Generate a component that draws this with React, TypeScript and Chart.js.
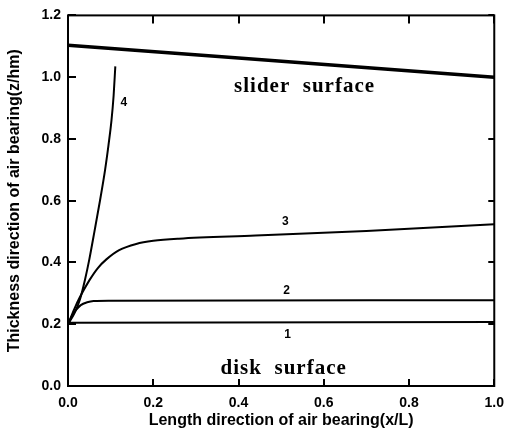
import React, { useEffect, useRef } from "react";
import { Chart, registerables } from "chart.js";
Chart.register(...registerables);

// ---- data ----
const xTickValues = [0, 0.2, 0.4, 0.6, 0.8, 1.0];
const yTickValues = [0, 0.2, 0.4, 0.6, 0.8, 1.0, 1.2];

const sliderX = [0, 1];
const sliderY = [1.103, 1.0];

const curve1X = [0, 1];
const curve1Y = [0.205, 0.207];

const curve2X = [0, 0.01, 0.02, 0.03, 0.045, 0.06, 0.1, 1];
const curve2Y = [0.2, 0.228, 0.248, 0.262, 0.271, 0.275, 0.276, 0.278];

const curve3X = [0, 0.015, 0.028, 0.05, 0.07, 0.09, 0.12, 0.16, 0.2, 0.26, 0.44, 0.7, 1];
const curve3Y = [0.2, 0.25, 0.288, 0.342, 0.382, 0.41, 0.44, 0.46, 0.47, 0.477, 0.487, 0.502, 0.524];

const curve4X = [0, 0.015, 0.028, 0.04, 0.05, 0.062, 0.075, 0.087, 0.095, 0.102, 0.107, 0.111];
const curve4Y = [0.2, 0.235, 0.28, 0.345, 0.41, 0.5, 0.6, 0.7, 0.78, 0.86, 0.94, 1.035];

const curveLabels = ["1", "2", "3", "4"];
const curveLabelX = [0.515, 0.513, 0.51, 0.131];
const curveLabelY = [0.165, 0.31, 0.532, 0.916];

const surfaceLabels = ["slider  surface", "disk  surface"];
const surfaceLabelX = [0.555, 0.506];
const surfaceLabelY = [0.971, 0.058];

const xTitle = "Length direction of air bearing(x/L)";
const yTitle = "Thickness direction of air bearing(z/hm)";

const SANS = "'Liberation Sans', Arial, Helvetica, sans-serif";
const SERIF = "'Liberation Serif', 'Times New Roman', serif";

const pts = (xs: number[], ys: number[]) => xs.map((x, i) => ({ x, y: ys[i] }));

const framePlugin = {
  id: "frameTicks",
  afterDatasetsDraw(chart: any) {
    const { ctx, chartArea: a, scales } = chart;
    const xs = scales.x;
    const ys = scales.y;
    ctx.save();
    ctx.strokeStyle = "#000";
    ctx.lineWidth = 2;
    ctx.strokeRect(a.left, a.top, a.right - a.left, a.bottom - a.top);
    ctx.beginPath();
    xTickValues.forEach((v) => {
      const p = Math.round(xs.getPixelForValue(v));
      ctx.moveTo(p, a.bottom);
      ctx.lineTo(p, a.bottom - 7);
      ctx.moveTo(p, a.top);
      ctx.lineTo(p, a.top + 8);
    });
    yTickValues.forEach((v) => {
      const p = Math.round(ys.getPixelForValue(v));
      ctx.moveTo(a.left, p);
      ctx.lineTo(a.left + 8, p);
      ctx.moveTo(a.right, p);
      ctx.lineTo(a.right - 6, p);
    });
    ctx.stroke();

    ctx.fillStyle = "#000";
    ctx.textAlign = "center";
    ctx.textBaseline = "middle";
    ctx.font = `bold 12px ${SANS}`;
    curveLabels.forEach((t, i) => {
      ctx.fillText(t, xs.getPixelForValue(curveLabelX[i]), ys.getPixelForValue(curveLabelY[i]));
    });
    ctx.font = `bold 21px ${SERIF}`;
    (ctx as any).letterSpacing = "1px";
    surfaceLabels.forEach((t, i) => {
      ctx.fillText(t, xs.getPixelForValue(surfaceLabelX[i]), ys.getPixelForValue(surfaceLabelY[i]));
    });
    (ctx as any).letterSpacing = "0px";
    ctx.restore();
  },
};

export default function App() {
  const ref = useRef<HTMLCanvasElement>(null);
  useEffect(() => {
    const canvas = ref.current!;
    const line = (xs: number[], ys: number[], w: number) => ({
      data: pts(xs, ys),
      showLine: true,
      borderColor: "#000",
      backgroundColor: "#000",
      borderWidth: w,
      pointRadius: 0,
      cubicInterpolationMode: "monotone" as const,
      fill: false,
    });
    const chart = new Chart(canvas, {
      type: "scatter",
      data: {
        datasets: [
          line(sliderX, sliderY, 3.5),
          line(curve1X, curve1Y, 2),
          line(curve2X, curve2Y, 2),
          line(curve3X, curve3Y, 2),
          line(curve4X, curve4Y, 2),
        ],
      },
      options: {
        animation: false,
        responsive: false,
        devicePixelRatio: 1,
        layout: { padding: { top: 14, right: 11, left: 0, bottom: 0 } },
        plugins: { legend: { display: false }, tooltip: { enabled: false } },
        scales: {
          x: {
            type: "linear",
            position: "bottom",
            min: 0,
            max: 1,
            grid: { display: false, drawTicks: false },
            border: { display: false },
            afterBuildTicks: (s: any) => {
              s.ticks = xTickValues.map((v) => ({ value: v }));
            },
            afterFit: (s: any) => {
              s.height = 47;
            },
            ticks: {
              padding: 9,
              color: "#000",
              font: { family: SANS, size: 14, weight: "bold", lineHeight: 1.2 },
              callback: (v: any) => Number(v).toFixed(1),
              maxRotation: 0,
            },
            title: {
              display: true,
              text: xTitle,
              color: "#000",
              font: { family: SANS, size: 16, weight: "bold", lineHeight: 1.2 },
              padding: { top: 0, bottom: 2.4 },
            },
          },
          y: {
            type: "linear",
            position: "left",
            min: 0,
            max: 1.2,
            grid: { display: false, drawTicks: false },
            border: { display: false },
            afterBuildTicks: (s: any) => {
              s.ticks = yTickValues.map((v) => ({ value: v }));
            },
            afterFit: (s: any) => {
              s.width = 68;
            },
            ticks: {
              padding: 7,
              color: "#000",
              font: { family: SANS, size: 14, weight: "bold", lineHeight: 1.2 },
              callback: (v: any) => Number(v).toFixed(1),
            },
            title: {
              display: true,
              text: yTitle,
              color: "#000",
              font: { family: SANS, size: 16, weight: "bold", lineHeight: 1.2 },
              padding: { top: 5.4, bottom: 0 },
            },
          },
        },
      },
      plugins: [framePlugin],
    });
    return () => chart.destroy();
  }, []);
  return (
    <div style={{ position: "fixed", left: 0, top: 0, width: 513, height: 433, background: "#fff" }}>
      <canvas ref={ref} width={513} height={433} style={{ display: "block", width: 513, height: 433 }} />
    </div>
  );
}
